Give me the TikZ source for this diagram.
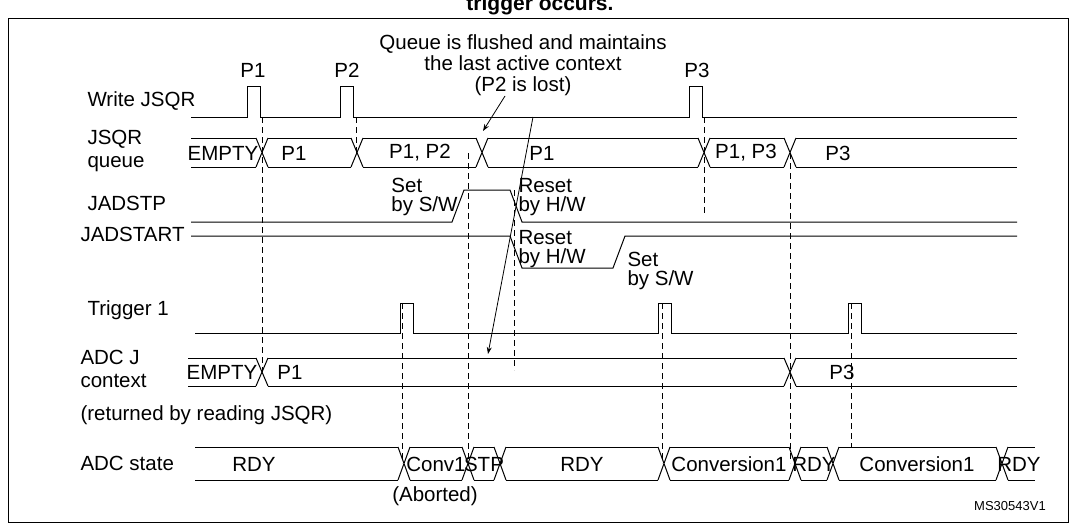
\documentclass[tikz,border=0pt]{standalone}
\usepackage{fontspec}
\setmainfont{Liberation Sans}
\usetikzlibrary{arrows.meta}
\begin{document}
\begin{tikzpicture}[x=1pt,y=-1pt,line width=1pt,
  lbl/.style={font=\fontsize{20.5}{19}\selectfont,inner sep=0pt},
  dsh/.style={dash pattern=on 6pt off 4pt,line width=0.8pt},
  arr/.style={-{Stealth[length=7pt,width=5pt]},line width=0.8pt}]
\useasboundingbox (0,0) rectangle (1077,530);
\clip (0,0) rectangle (1077,530);
\newcommand\xcr[3]{\draw (#1-6,#2)--(#1+6,#3) (#1-6,#3)--(#1+6,#2);}
\newcommand\bseg[4]{\draw (#1,#3)--(#2,#3) (#1,#4)--(#2,#4);}
% title and frame
\node[lbl,font=\fontsize{21}{22}\selectfont\bfseries,anchor=south] (title) at (540,15) {trigger occurs.};
\draw (8,18) rectangle (1068,522);
% left labels
\node[lbl,anchor=west] (lw) at (87,101) {Write JSQR};
\node[lbl,anchor=west,align=left,font=\fontsize{20.5}{23}\selectfont] (lq) at (87,151) {JSQR\\queue};
\node[lbl,anchor=west] (ls) at (87,203) {JADSTP};
\node[lbl,anchor=west] (la) at (80,234) {JADSTART};
\node[lbl,anchor=west] (lt) at (87,310) {Trigger 1};
\node[lbl,anchor=west,align=left,font=\fontsize{20.5}{23}\selectfont] (lj) at (80,369) {ADC J\\context};
\node[lbl,anchor=west] (lr) at (80,415) {(returned by reading JSQR)};
\node[lbl,anchor=west] (ld) at (80,463) {ADC state};
% Write JSQR
\draw (191,117)--(247,117)--(247,86)--(260,86)--(260,117)--(340,117)--(340,86)--(353,86)--(353,117)
  --(689,117)--(689,86)--(702,86)--(702,117)--(1017,117);
\node[lbl] (p1) at (253,70) {P1};
\node[lbl] (p2) at (347,70) {P2};
\node[lbl] (p3) at (697,70) {P3};
% queue
\def\T{138}\def\B{167}
\bseg{191}{256}{\T}{\B}\xcr{262}{\T}{\B}
\bseg{268}{351}{\T}{\B}\xcr{357}{\T}{\B}
\bseg{363}{476}{\T}{\B}\xcr{482}{\T}{\B}
\bseg{488}{698}{\T}{\B}\xcr{704}{\T}{\B}
\bseg{710}{784}{\T}{\B}\xcr{790}{\T}{\B}
\bseg{796}{1017}{\T}{\B}
\node[lbl] (qe) at (223,153) {EMPTY};
\node[lbl] (q1) at (294,153) {P1};
\node[lbl] (q12) at (420,153) {P1, P2};
\node[lbl] (q1b) at (542,153) {P1};
\node[lbl] (q13) at (746,153) {P1, P3};
\node[lbl] (q3) at (838,153) {P3};
% JADSTP
\draw (191,222)--(452,222)--(464,190)--(510,190)--(522,222)--(1017,222);
\node[lbl,anchor=east,align=left] (sset) at (458,197) {Set\\by S/W};
\node[lbl,anchor=west,align=left] (sres) at (518,197) {Reset\\by H/W};
% JADSTART
\draw (191,236)--(510,236)--(522,268)--(613,268)--(625,236)--(1017,236);
\node[lbl,anchor=west,align=left] (ares) at (518,249) {Reset\\by H/W};
\node[lbl,anchor=west,align=left] (aset) at (627,271) {Set\\by S/W};
% Trigger
\draw (195,333)--(400,333)--(400,303)--(413,303)--(413,333)--(658,333)--(658,303)--(671,303)--(671,333)
  --(848,333)--(848,303)--(861,303)--(861,333)--(1017,333);
% ADC J context
\def\T{358}\def\B{386}
\bseg{188}{256}{\T}{\B}\xcr{262}{\T}{\B}
\bseg{268}{784}{\T}{\B}\xcr{790}{\T}{\B}
\bseg{796}{1017}{\T}{\B}
\node[lbl] (je) at (222,372) {EMPTY};
\node[lbl] (j1) at (290,372) {P1};
\node[lbl] (j3) at (842,372) {P3};
% ADC state
\def\T{447}\def\B{480}
\bseg{195}{398}{\T}{\B}\xcr{404}{\T}{\B}
\bseg{410}{462}{\T}{\B}\xcr{468}{\T}{\B}
\bseg{474}{494}{\T}{\B}\xcr{500}{\T}{\B}
\bseg{506}{658}{\T}{\B}\xcr{664}{\T}{\B}
\bseg{670}{789}{\T}{\B}\xcr{795}{\T}{\B}
\bseg{801}{827}{\T}{\B}\xcr{833}{\T}{\B}
\bseg{839}{996}{\T}{\B}\xcr{1002}{\T}{\B}
\bseg{1008}{1035}{\T}{\B}
\node[lbl] (s1) at (254,464) {RDY};
\node[lbl] (s2) at (436,464) {Conv1};
\node[lbl] (s3) at (484,464) {STP};
\node[lbl] (s4) at (582,464) {RDY};
\node[lbl] (s5) at (729,464) {Conversion1};
\node[lbl] (s6) at (814,464) {RDY};
\node[lbl] (s7) at (917,464) {Conversion1};
\node[lbl] (s8) at (1019,464) {RDY};
\node[lbl] (ab) at (435,496) {(Aborted)};
\node[lbl,font=\fontsize{13}{14}\selectfont] (ms) at (1010,506) {MS30543V1};
% dashed
\draw[dsh] (262,117)--(262,372);
\draw[dsh] (356,117)--(356,153);
\draw[dsh] (468,153)--(468,463);
\draw[dsh] (514,190)--(514,370);
\draw[dsh] (704,117)--(704,215);
\draw[dsh] (790,153)--(790,463);
\draw[dsh] (402,303)--(402,463);
\draw[dsh] (662,303)--(662,463);
\draw[dsh] (851,303)--(851,447);
% annotation
\node[lbl,align=center,font=\fontsize{20.5}{21}\selectfont] (note) at (523,65) {Queue is flushed and maintains\\the last active context\\(P2 is lost)};
\coordinate (a1s) at (505,96);
\coordinate (a1e) at (483,131);
\draw[arr] (a1s)--(a1e);
\coordinate (a2s) at (533,117);
\coordinate (a2e) at (488,354);
\draw[arr] (a2s)--(a2e);
\end{tikzpicture}
\end{document}
